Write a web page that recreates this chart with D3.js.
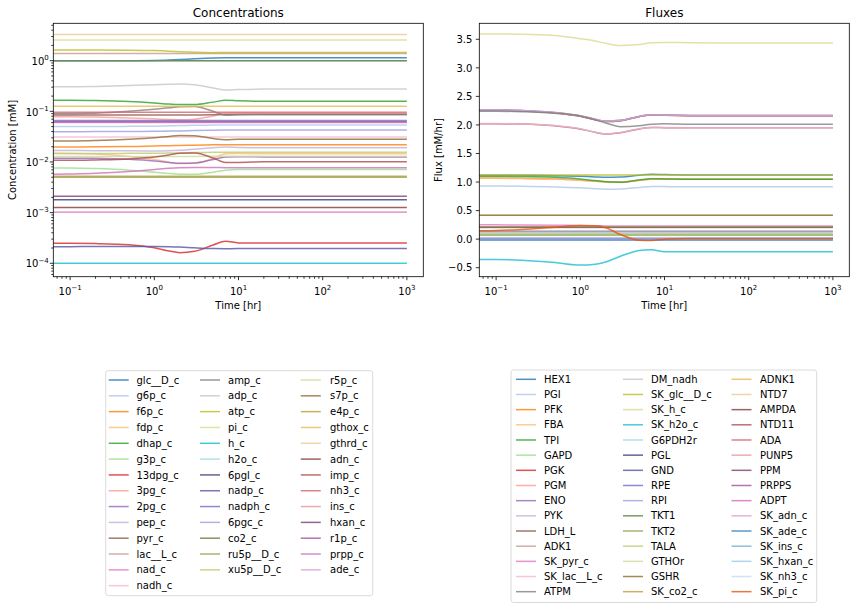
<!DOCTYPE html>
<html><head><meta charset="utf-8">
<script src="https://cdn.jsdelivr.net/npm/d3@7"></script>
<style>body{margin:0;background:#fff} svg{display:block} text{font-family:"DejaVu Sans",sans-serif;fill:#000}</style>
</head><body><svg id="c" width="856" height="611"></svg>
<script>
// ---------------- DATA ----------------
const time = [0.0631, 0.1, 0.2, 0.5, 1, 1.5, 2, 3, 5, 7, 10, 20, 100, 1000];

const concNames = ["glc__D_c","g6p_c","f6p_c","fdp_c","dhap_c","g3p_c","13dpg_c","3pg_c","2pg_c","pep_c","pyr_c","lac__L_c","nad_c","nadh_c",
  "amp_c","adp_c","atp_c","pi_c","h_c","h2o_c","6pgl_c","nadp_c","nadph_c","6pgc_c","co2_c","ru5p__D_c","xu5p__D_c",
  "r5p_c","s7p_c","e4p_c","gthox_c","gthrd_c","adn_c","imp_c","nh3_c","ins_c","hxan_c","r1p_c","prpp_c","ade_c"];
const concValues = [
  [1.0,1.0,1.0,1.0,1.01,1.03,1.05,1.09,1.13,1.14,1.14,1.14,1.14,1.14],
  [0.0499,0.0499,0.05,0.0505,0.051,0.0518,0.0524,0.053,0.0535,0.0536,0.0536,0.0536,0.0536,0.0536],
  [0.0198,0.0198,0.0199,0.0202,0.0206,0.021,0.0212,0.0215,0.0218,0.022,0.022,0.022,0.022,0.022],
  [0.0148,0.0147,0.0143,0.0128,0.0112,0.0099,0.0093,0.0094,0.0118,0.0145,0.0147,0.0145,0.0145,0.0145],
  [0.165,0.165,0.163,0.156,0.146,0.139,0.136,0.136,0.152,0.165,0.161,0.158,0.158,0.158],
  [0.0076,0.0076,0.0074,0.0069,0.0063,0.0059,0.0057,0.0057,0.0063,0.0069,0.0071,0.0071,0.0071,0.0071],
  [2.48e-4,2.48e-4,2.45e-4,2.32e-4,2.02e-4,1.75e-4,1.62e-4,1.72e-4,2.3e-4,2.72e-4,2.52e-4,2.5e-4,2.5e-4,2.5e-4],
  [0.078,0.078,0.077,0.074,0.071,0.069,0.068,0.07,0.081,0.09,0.091,0.09,0.09,0.09],
  [0.0119,0.0119,0.0118,0.0113,0.0105,0.0098,0.0094,0.0095,0.0112,0.0126,0.0127,0.0126,0.0126,0.0126],
  [0.0168,0.0168,0.0167,0.0166,0.0165,0.0167,0.017,0.0178,0.0192,0.0198,0.0194,0.0191,0.0191,0.0191],
  [0.085,0.085,0.085,0.085,0.085,0.085,0.085,0.085,0.086,0.087,0.087,0.087,0.087,0.087],
  [1.38,1.38,1.38,1.38,1.38,1.38,1.38,1.38,1.38,1.38,1.38,1.38,1.38,1.38],
  [0.06,0.06,0.06,0.06,0.06,0.06,0.06,0.06,0.06,0.06,0.06,0.06,0.06,0.06],
  [0.031,0.031,0.031,0.031,0.031,0.031,0.031,0.031,0.031,0.031,0.031,0.031,0.031,0.031],
  [0.09,0.09,0.092,0.1,0.11,0.118,0.123,0.125,0.1,0.084,0.086,0.087,0.087,0.087],
  [0.305,0.305,0.31,0.322,0.335,0.342,0.345,0.335,0.29,0.265,0.27,0.275,0.275,0.275],
  [1.62,1.62,1.62,1.61,1.58,1.54,1.5,1.46,1.44,1.45,1.45,1.45,1.45,1.45],
  [2.55,2.55,2.55,2.55,2.55,2.55,2.55,2.55,2.55,2.55,2.55,2.55,2.55,2.55],
  [1e-4,1e-4,1e-4,1e-4,1e-4,1e-4,1e-4,1e-4,1e-4,1e-4,1e-4,1e-4,1e-4,1e-4],
  [1,1,1,1,1,1,1,1,1,1,1,1,1,1],
  [0.0018,0.0018,0.0018,0.0018,0.0018,0.0018,0.0018,0.0018,0.0018,0.0018,0.0018,0.0018,0.0018,0.0018],
  [2.13e-4,2.13e-4,2.14e-4,2.15e-4,2.15e-4,2.13e-4,2.1e-4,2.02e-4,1.95e-4,1.94e-4,1.95e-4,1.95e-4,1.95e-4,1.95e-4],
  [0.066,0.066,0.066,0.066,0.066,0.066,0.066,0.066,0.066,0.066,0.066,0.066,0.066,0.066],
  [0.0397,0.0397,0.0398,0.04,0.0403,0.0407,0.041,0.0418,0.0425,0.0427,0.0427,0.0427,0.0427,0.0427],
  [1,1,1,1,1,1,1,1,1,1,1,1,1,1],
  [0.005,0.005,0.005,0.005,0.005,0.005,0.005,0.005,0.005,0.005,0.005,0.005,0.005,0.005],
  [0.0147,0.0147,0.0147,0.0148,0.0149,0.015,0.0151,0.0153,0.0155,0.0156,0.0156,0.0156,0.0156,0.0156],
  [0.0128,0.0128,0.0128,0.0128,0.0128,0.0128,0.0128,0.0129,0.013,0.013,0.013,0.013,0.013,0.013],
  [0.026,0.026,0.0265,0.028,0.03,0.032,0.0333,0.033,0.029,0.0275,0.028,0.028,0.028,0.028],
  [0.0052,0.0052,0.0052,0.0052,0.0052,0.0052,0.0052,0.0052,0.0052,0.0052,0.0052,0.0052,0.0052,0.0052],
  [0.126,0.126,0.126,0.126,0.126,0.126,0.126,0.126,0.126,0.126,0.126,0.126,0.126,0.126],
  [3.3,3.3,3.3,3.3,3.3,3.3,3.3,3.3,3.3,3.3,3.3,3.3,3.3,3.3],
  [0.00126,0.00126,0.00126,0.00126,0.00126,0.00126,0.00126,0.00126,0.00126,0.00126,0.00126,0.00126,0.00126,0.00126],
  [0.0108,0.0108,0.011,0.0115,0.0125,0.0138,0.0148,0.015,0.012,0.0098,0.0098,0.0101,0.0101,0.0101],
  [0.096,0.096,0.096,0.096,0.096,0.096,0.096,0.096,0.096,0.096,0.096,0.096,0.096,0.096],
  [0.00102,0.00102,0.00102,0.00102,0.00102,0.00102,0.00102,0.00102,0.00102,0.00102,0.00102,0.00102,0.00102,0.00102],
  [0.0021,0.0021,0.0021,0.0021,0.0021,0.0021,0.0021,0.0021,0.0021,0.0021,0.0021,0.0021,0.0021,0.0021],
  [0.062,0.062,0.062,0.062,0.062,0.062,0.062,0.062,0.062,0.062,0.062,0.062,0.062,0.062],
  [0.0057,0.0058,0.006,0.0065,0.0071,0.0075,0.0077,0.0078,0.0078,0.0077,0.0077,0.0077,0.0077,0.0077],
  [0.00102,0.00102,0.00102,0.00102,0.00102,0.00102,0.00102,0.00102,0.00102,0.00102,0.00102,0.00102,0.00102,0.00102]
];

const fluxNames = ["HEX1","PGI","PFK","FBA","TPI","GAPD","PGK","PGM","ENO","PYK","LDH_L","ADK1","SK_pyr_c","SK_lac__L_c","ATPM",
  "DM_nadh","SK_glc__D_c","SK_h_c","SK_h2o_c","G6PDH2r","PGL","GND","RPE","RPI","TKT1","TKT2","TALA","GTHOr","GSHR","SK_co2_c",
  "ADNK1","NTD7","AMPDA","NTD11","ADA","PUNP5","PPM","PRPPS","ADPT","SK_adn_c","SK_ade_c","SK_ins_c","SK_hxan_c","SK_nh3_c","SK_pi_c"];
const fluxValues = [
  [1.12,1.12,1.118,1.112,1.1,1.09,1.085,1.088,1.12,1.138,1.13,1.122,1.122,1.122],
  [0.93,0.93,0.926,0.915,0.898,0.884,0.875,0.878,0.905,0.922,0.92,0.917,0.917,0.917],
  [1.07,1.07,1.066,1.052,1.032,1.015,1.005,1.002,1.03,1.052,1.052,1.05,1.05,1.05],
  [1.065,1.065,1.06,1.048,1.03,1.013,1.003,1.0,1.028,1.05,1.052,1.05,1.05,1.05],
  [1.1,1.1,1.097,1.083,1.055,1.025,1.005,0.998,1.035,1.058,1.055,1.05,1.05,1.05],
  [2.255,2.255,2.245,2.21,2.15,2.09,2.06,2.075,2.145,2.175,2.168,2.162,2.162,2.162],
  [2.255,2.255,2.245,2.21,2.15,2.09,2.06,2.075,2.145,2.175,2.168,2.162,2.162,2.162],
  [2.26,2.26,2.25,2.215,2.155,2.095,2.063,2.078,2.148,2.178,2.17,2.164,2.164,2.164],
  [2.265,2.265,2.255,2.22,2.16,2.1,2.066,2.08,2.15,2.18,2.172,2.165,2.165,2.165],
  [2.265,2.265,2.255,2.22,2.16,2.1,2.066,2.08,2.15,2.18,2.172,2.165,2.165,2.165],
  [2.02,2.02,2.015,1.985,1.93,1.87,1.84,1.865,1.93,1.955,1.952,1.95,1.95,1.95],
  [0.0,0.0,0.0,0.0,0.0,0.0,0.0,0.0,0.0,0.0,0.0,0.0,0.0,0.0],
  [0.25,0.25,0.248,0.243,0.238,0.234,0.232,0.231,0.23,0.23,0.23,0.23,0.23,0.23],
  [2.025,2.025,2.018,1.988,1.933,1.873,1.843,1.868,1.933,1.957,1.954,1.952,1.952,1.952],
  [2.24,2.24,2.232,2.205,2.155,2.09,2.035,1.97,1.985,2.01,2.02,2.012,2.012,2.012],
  [0.2,0.2,0.2,0.2,0.2,0.2,0.2,0.2,0.2,0.2,0.2,0.2,0.2,0.2],
  [1.122,1.122,1.122,1.122,1.122,1.122,1.122,1.122,1.122,1.122,1.122,1.122,1.122,1.122],
  [3.593,3.592,3.59,3.565,3.51,3.47,3.43,3.39,3.41,3.44,3.445,3.44,3.435,3.435],
  [-0.355,-0.356,-0.37,-0.41,-0.455,-0.44,-0.4,-0.3,-0.2,-0.185,-0.22,-0.222,-0.222,-0.222],
  [0.21,0.21,0.21,0.21,0.21,0.21,0.21,0.21,0.21,0.21,0.21,0.21,0.21,0.21],
  [0.21,0.21,0.21,0.21,0.21,0.21,0.21,0.21,0.21,0.21,0.21,0.21,0.21,0.21],
  [0.21,0.21,0.21,0.21,0.21,0.21,0.21,0.21,0.21,0.21,0.21,0.21,0.21,0.21],
  [0.14,0.14,0.14,0.14,0.14,0.14,0.14,0.14,0.14,0.14,0.14,0.14,0.14,0.14],
  [0.07,0.07,0.07,0.07,0.07,0.07,0.07,0.07,0.07,0.07,0.07,0.07,0.07,0.07],
  [0.07,0.07,0.07,0.07,0.07,0.07,0.07,0.07,0.07,0.07,0.07,0.07,0.07,0.07],
  [0.07,0.07,0.07,0.07,0.07,0.07,0.07,0.07,0.07,0.07,0.07,0.07,0.07,0.07],
  [0.07,0.07,0.07,0.07,0.07,0.07,0.07,0.07,0.07,0.07,0.07,0.07,0.07,0.07],
  [0.42,0.42,0.42,0.42,0.42,0.42,0.42,0.42,0.42,0.42,0.42,0.42,0.42,0.42],
  [0.42,0.42,0.42,0.42,0.42,0.42,0.42,0.42,0.42,0.42,0.42,0.42,0.42,0.42],
  [0.215,0.215,0.215,0.215,0.215,0.215,0.215,0.215,0.215,0.215,0.215,0.215,0.215,0.215],
  [0.12,0.12,0.12,0.12,0.12,0.12,0.12,0.12,0.12,0.12,0.12,0.12,0.12,0.12],
  [0.11,0.11,0.11,0.11,0.11,0.11,0.11,0.11,0.11,0.11,0.11,0.11,0.11,0.11],
  [0.014,0.014,0.014,0.014,0.014,0.014,0.014,0.014,0.014,0.014,0.014,0.014,0.014,0.014],
  [0.014,0.014,0.014,0.014,0.014,0.014,0.014,0.014,0.014,0.014,0.014,0.014,0.014,0.014],
  [0.01,0.01,0.01,0.01,0.01,0.01,0.01,0.01,0.01,0.01,0.01,0.01,0.01,0.01],
  [0.014,0.014,0.014,0.014,0.014,0.014,0.014,0.014,0.014,0.014,0.014,0.014,0.014,0.014],
  [0.014,0.014,0.014,0.014,0.014,0.014,0.014,0.014,0.014,0.014,0.014,0.014,0.014,0.014],
  [0.014,0.014,0.014,0.014,0.014,0.014,0.014,0.014,0.014,0.014,0.014,0.014,0.014,0.014],
  [0.014,0.014,0.014,0.014,0.014,0.014,0.014,0.014,0.014,0.014,0.014,0.014,0.014,0.014],
  [-0.01,-0.01,-0.01,-0.01,-0.01,-0.01,-0.01,-0.01,-0.01,-0.01,-0.01,-0.01,-0.01,-0.01],
  [-0.014,-0.014,-0.014,-0.014,-0.014,-0.014,-0.014,-0.014,-0.014,-0.014,-0.014,-0.014,-0.014,-0.014],
  [0.0,0.0,0.0,0.0,0.0,0.0,0.0,0.0,0.0,0.0,0.0,0.0,0.0,0.0],
  [0.097,0.097,0.097,0.097,0.097,0.097,0.097,0.097,0.097,0.097,0.097,0.097,0.097,0.097],
  [0.03,0.03,0.03,0.03,0.03,0.03,0.03,0.03,0.03,0.03,0.03,0.03,0.03,0.03],
  [0.145,0.15,0.17,0.21,0.24,0.235,0.2,0.08,-0.02,-0.025,0.0,0.01,0.01,0.01]
];

const xTicks = [0.1, 1, 10, 100, 1000];
const xTickExp = ["\u22121", "0", "1", "2", "3"];
const concTicks = [1e-4, 1e-3, 1e-2, 1e-1, 1];
const concTickExp = ["\u22124", "\u22123", "\u22122", "\u22121", "0"];
const fluxTicks = [-0.5, 0, 0.5, 1, 1.5, 2, 2.5, 3, 3.5];
const fluxTickLabels = ["\u22120.5", "0.0", "0.5", "1.0", "1.5", "2.0", "2.5", "3.0", "3.5"];

// palette (matplotlib tab20, tab20b, tab20c)
const tab20 = ['#1f77b4','#aec7e8','#ff7f0e','#ffbb78','#2ca02c','#98df8a','#d62728','#ff9896','#9467bd','#c5b0d5','#8c564b','#c49c94','#e377c2','#f7b6d2','#7f7f7f','#c7c7c7','#bcbd22','#dbdb8d','#17becf','#9edae5'];
const tab20b = ['#393b79','#5254a3','#6b6ecf','#9c9ede','#637939','#8ca252','#b5cf6b','#cedb9c','#8c6d31','#bd9e39','#e7ba52','#e7cb94','#843c39','#ad494a','#d6616b','#e7969c','#7b4173','#a55194','#ce6dbd','#de9ed6'];
const tab20c = ['#3182bd','#6baed6','#9ecae1','#c6dbef','#e6550d','#fd8d3c','#fdae6b','#fdd0a2'];
const palette = tab20.concat(tab20b, tab20c);

// ---------------- DRAW ----------------
const svg = d3.select("#c");
const yTop = 23.3, yBot = 276.7;
const xDomain = [Math.pow(10, -1.2), Math.pow(10, 3.195)];
const LINE_ALPHA = 0.8;

function drawPanel(o) {
  const x = d3.scaleLog().domain(xDomain).range([o.x0, o.x1]);
  const y = o.yScale;
  const g = svg.append("g");
  const cid = "clip" + o.id;
  svg.append("defs").append("clipPath").attr("id", cid)
    .append("rect").attr("x", o.x0).attr("y", yTop).attr("width", o.x1 - o.x0).attr("height", yBot - yTop);
  const lg = g.append("g").attr("clip-path", `url(#${cid})`);
  const line = d3.line().x((d, i) => x(time[i])).y(d => y(d)).curve(d3.curveMonotoneX);
  o.values.forEach((vals, k) => {
    lg.append("path").attr("d", line(vals)).attr("fill", "none")
      .attr("stroke", palette[k]).attr("stroke-opacity", LINE_ALPHA)
      .attr("stroke-width", 1.5).attr("stroke-linejoin", "round");
  });
  const ax = g.append("g").attr("stroke", "#000").attr("stroke-width", 0.8);
  for (let d = -2; d <= 3; d++) {
    for (let m = 1; m <= 9; m++) {
      const v = m * Math.pow(10, d);
      if (v < xDomain[0] || v > xDomain[1]) continue;
      const px = x(v), len = m === 1 ? 3.5 : 2;
      ax.append("line").attr("x1", px).attr("x2", px).attr("y1", yBot).attr("y2", yBot + len);
    }
  }
  xTicks.forEach((v, i) => {
    const t = g.append("text").attr("x", x(v)).attr("y", yBot + 18.3).attr("text-anchor", "middle").attr("font-size", 10);
    t.append("tspan").text("10");
    t.append("tspan").attr("font-size", 7).attr("dy", -4.6).text(xTickExp[i]);
  });
  if (o.log) {
    const dom = y.domain();
    for (let d = -5; d <= 1; d++) {
      for (let m = 1; m <= 9; m++) {
        const v = m * Math.pow(10, d);
        if (v < dom[0] || v > dom[1]) continue;
        const py = y(v), len = m === 1 ? 3.5 : 2;
        ax.append("line").attr("x1", o.x0 - len).attr("x2", o.x0).attr("y1", py).attr("y2", py);
      }
    }
    concTicks.forEach((v, i) => {
      const t = g.append("text").attr("x", o.x0 - 4.5).attr("y", y(v) + 4.2).attr("text-anchor", "end").attr("font-size", 10);
      t.append("tspan").text("10");
      t.append("tspan").attr("font-size", 7).attr("dy", -4.6).text(concTickExp[i]);
    });
  } else {
    fluxTicks.forEach((v, i) => {
      ax.append("line").attr("x1", o.x0 - 3.5).attr("x2", o.x0).attr("y1", y(v)).attr("y2", y(v));
      g.append("text").attr("x", o.x0 - 7).attr("y", y(v) + 3.7).attr("text-anchor", "end").attr("font-size", 10).text(fluxTickLabels[i]);
    });
  }
  g.append("rect").attr("x", o.x0).attr("y", yTop).attr("width", o.x1 - o.x0).attr("height", yBot - yTop)
    .attr("fill", "none").attr("stroke", "#000").attr("stroke-width", 0.8);
  const cx = (o.x0 + o.x1) / 2;
  g.append("text").attr("x", cx).attr("y", 17.2).attr("text-anchor", "middle").attr("font-size", 12).text(o.title);
  g.append("text").attr("x", cx).attr("y", 309).attr("text-anchor", "middle").attr("font-size", 10).text("Time [hr]");
  g.append("text").attr("transform", `translate(${o.ylabX},${(yTop + yBot) / 2}) rotate(-90)`)
    .attr("text-anchor", "middle").attr("font-size", 10).text(o.ylabel);

  const L = o.legend;
  g.append("rect").attr("x", L.bx0).attr("y", L.by0).attr("width", L.bx1 - L.bx0).attr("height", L.by1 - L.by0)
    .attr("rx", 2.5).attr("fill", "#fff").attr("stroke", "#d6d6d6").attr("stroke-width", 0.9);
  // column-major filling with given column sizes
  const starts = [0];
  L.colSizes.forEach((n, i) => starts.push(starts[i] + n));
  o.names.forEach((nm, k) => {
    let col = 0;
    while (k >= starts[col + 1]) col++;
    const row = k - starts[col];
    const ry = L.y0 + row * L.dy;
    g.append("line").attr("x1", L.hx[col]).attr("x2", L.hx[col] + 20).attr("y1", ry).attr("y2", ry)
      .attr("stroke", palette[k]).attr("stroke-opacity", LINE_ALPHA).attr("stroke-width", 1.5);
    g.append("text").attr("x", L.tx[col]).attr("y", ry + 3.6).attr("font-size", 10).text(nm);
  });
}

drawPanel({
  id: "A", x0: 53.3, x1: 423.3, title: "Concentrations", ylabel: "Concentration [mM]", ylabX: 15.5,
  log: true, yScale: d3.scaleLog().domain([Math.pow(10, -4.265), Math.pow(10, 0.738)]).range([yBot, yTop]),
  values: concValues, names: concNames,
  legend: { bx0: 105.7, bx1: 372.7, by0: 370.7, by1: 595.7, colSizes: [14, 13, 13], y0: 380, dy: 15.82,
            hx: [108.7, 200, 300.8], tx: [136.5, 228, 330] }
});
drawPanel({
  id: "B", x0: 479.3, x1: 849.3, title: "Fluxes", ylabel: "Flux [mM/hr]", ylabX: 442,
  log: false, yScale: d3.scaleLinear().domain([-0.658, 3.78]).range([yBot, yTop]),
  values: fluxValues, names: fluxNames,
  legend: { bx0: 511, bx1: 816.7, by0: 370, by1: 602.5, colSizes: [15, 15, 15], y0: 379.3, dy: 15.17,
            hx: [516, 623, 731.5], tx: [544, 651, 760] }
});
</script></body></html>
